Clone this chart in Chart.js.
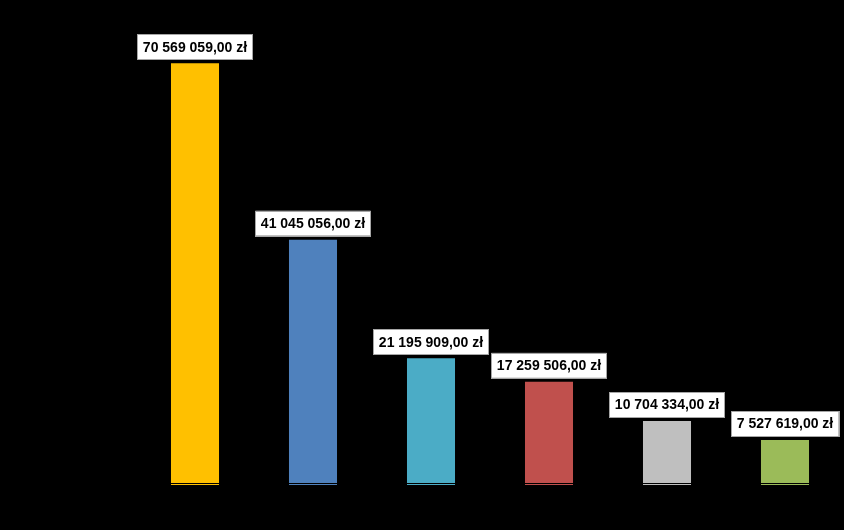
<!DOCTYPE html>
<html>
<head>
<meta charset="utf-8">
<script src="https://cdn.jsdelivr.net/npm/chart.js@4.4.0/dist/chart.umd.min.js"></script>
<style>
  html, body { margin: 0; padding: 0; background: #000; }
  #wrap { width: 844px; height: 530px; }
</style>
</head>
<body>
<div id="wrap"><canvas id="myChart"></canvas></div>
<script>
// categories are not readable in the picture (black on black)
const categories = ["1", "2", "3", "4", "5", "6"];
const amounts = [70569059, 41045056, 21195909, 17259506, 10704334, 7527619];
const barColors = ["#ffc000", "#4f81bd", "#4bacc6", "#c0504d", "#bfbfbf", "#9bbb59"];

function formatZl(v) {
  const s = Math.round(v).toString().replace(/\B(?=(\d{3})+(?!\d))/g, " ");
  return s + ",00 zł";
}

// white boxed value labels above bars + black baseline gap
const labelBoxes = {
  id: "labelBoxes",
  afterDatasetsDraw(chart) {
    const ctx = chart.ctx;
    const meta = chart.getDatasetMeta(0);
    const area = chart.chartArea;
    ctx.save();
    ctx.fillStyle = "#000";
    ctx.fillRect(area.left, area.bottom - 2, area.right - area.left, 1);
    ctx.font = "bold 14px 'Liberation Sans', Arial, sans-serif";
    ctx.textAlign = "center";
    ctx.textBaseline = "middle";
    meta.data.forEach((bar, i) => {
      const text = formatZl(amounts[i]);
      const w = ctx.measureText(text).width + 11;
      const h = 25;
      const x = bar.x - w / 2;
      const y = bar.y - 4 - h;
      ctx.fillStyle = "#ffffff";
      ctx.fillRect(x, y, w, h);
      ctx.strokeStyle = "#a6a6a6";
      ctx.lineWidth = 1;
      ctx.strokeRect(Math.round(x) + 0.5, Math.round(y) + 0.5, Math.round(w), h);
      ctx.fillStyle = "#000";
      ctx.fillText(text, bar.x, y + h / 2 + 1);
    });
    ctx.restore();
  }
};

const ctx = document.getElementById("myChart");
const myChart = new Chart(ctx, {
  type: "bar",
  data: {
    labels: categories,
    datasets: [
      {
        data: amounts,
        backgroundColor: barColors,
        borderWidth: 0,
        categoryPercentage: 1,
        barPercentage: 0.407,
      },
    ],
  },
  options: {
    responsive: true,
    maintainAspectRatio: false,
    animation: false,
    layout: {
      padding: { left: 136, right: 0, top: 7, bottom: 45 },
    },
    scales: {
      x: { display: false },
      y: { display: false, min: 0, max: 80000000 },
    },
    plugins: {
      legend: { display: false },
      tooltip: { enabled: false },
    },
  },
  plugins: [labelBoxes],
});
</script>
</body>
</html>
